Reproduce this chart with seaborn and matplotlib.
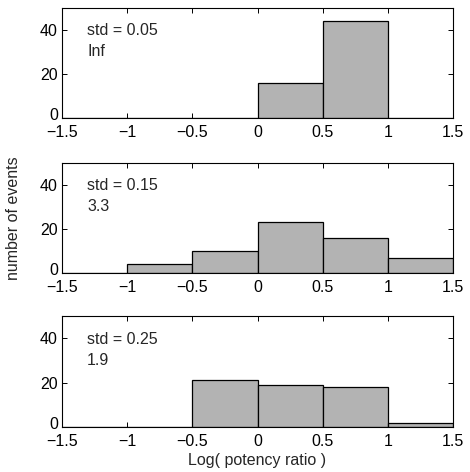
import numpy as np
import matplotlib
matplotlib.use("Agg")
import matplotlib.pyplot as plt
import matplotlib.transforms as mtransforms
import seaborn as sns

edges = [-1.5, -1.0, -0.5, 0.0, 0.5, 1.0, 1.5]
centers = [-1.25, -0.75, -0.25, 0.25, 0.75, 1.25]
counts_std005 = [0, 0, 0, 16, 44, 0]
counts_std015 = [0, 4, 10, 23, 16, 7]
counts_std025 = [0, 0, 21, 19, 18, 2]
labels_std = ["std = 0.05", "std = 0.15", "std = 0.25"]
labels_val = ["Inf", "3.3", "1.9"]
xticks = [-1.5, -1, -0.5, 0, 0.5, 1, 1.5]
xticklabels = ["\u22121.5", "\u22121", "\u22120.5", "0", "0.5", "1", "1.5"]
yticks = [0, 20, 40]

sns.set_style("white")
plt.rcParams['font.family'] = ['Liberation Sans', 'DejaVu Sans']
FS = 11.5
plt.rcParams['font.size'] = FS

fig = plt.figure(figsize=(4.7, 4.72), dpi=100)
left, width = 62/470, (453-62)/470
boxes = [(7.5, 118), (162.5, 273), (316, 427)]
all_counts = [counts_std005, counts_std015, counts_std025]

axes = []
for (t, b), counts, ls, lv in zip(boxes, all_counts, labels_std, labels_val):
    ax = fig.add_axes([left, 1 - b/472, width, (b - t)/472])
    sns.histplot(x=centers, weights=counts, bins=edges, ax=ax,
                 color="#b3b3b3", edgecolor="black", linewidth=0.9, alpha=1.0)
    ax.set_xlim(-1.5, 1.5)
    ax.set_ylim(0, 50)
    ax.set_xticks(xticks)
    ax.set_xticklabels(xticklabels)
    ax.set_yticks(yticks)
    ax.set_ylabel("")
    ax.set_xlabel("")
    ax.tick_params(direction="in", length=3.5, width=0.7, top=True, right=True,
                   bottom=True, left=True, labelsize=FS, colors="black")
    ax.tick_params(axis="x", pad=5)
    ax.tick_params(axis="y", pad=3)
    for s in ax.spines.values():
        s.set_visible(True)
        s.set_color("black")
        s.set_linewidth(0.8)
    # raise the "0" y tick label slightly, as in the reference
    zero_lbl = ax.get_yticklabels()[0]
    zero_lbl.set_transform(zero_lbl.get_transform() +
                           mtransforms.ScaledTranslation(0, 4/100, fig.dpi_scale_trans))
    ax.text(0.064, 0.79, ls, transform=ax.transAxes, va="center", ha="left", fontsize=FS)
    ax.text(0.064, 0.60, lv, transform=ax.transAxes, va="center", ha="left", fontsize=FS)
    axes.append(ax)

fig.text(14/470, 1 - 218/472, "number of events", rotation=90, va="center", ha="center", fontsize=FS)
fig.text(0.5 * (62 + 453) / 470, 1 - 461/472, "Log( potency ratio )", va="center", ha="center", fontsize=FS)

fig.savefig("out.png", dpi=100)
